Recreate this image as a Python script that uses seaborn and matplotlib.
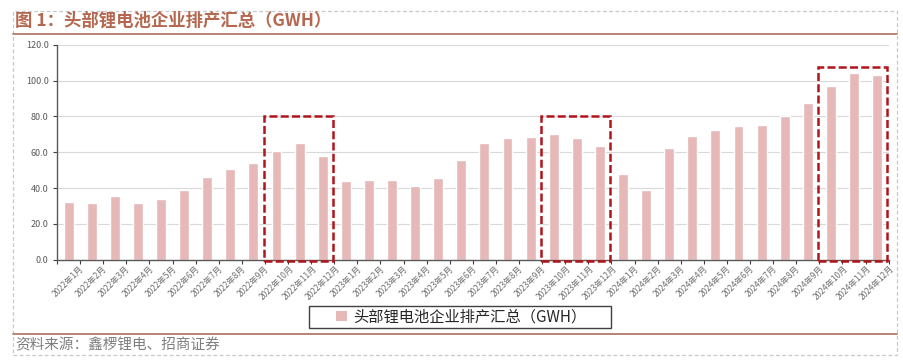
import matplotlib
matplotlib.use("Agg")
import matplotlib.pyplot as plt
from matplotlib.patches import Rectangle, Patch
from matplotlib.lines import Line2D
import seaborn as sns
import pandas as pd

years = ["2022", "2023", "2024"]
months = list(range(1, 13))
categories = [f"{y}年{m}月" for y in years for m in months]
values = [
    32.0, 31.6, 35.7, 31.8, 33.9, 38.9, 46.0, 50.8, 54.1, 60.7, 65.3, 58.0,
    43.9, 44.4, 44.3, 40.9, 45.4, 55.6, 65.0, 68.0, 68.3, 70.4, 68.1, 63.7,
    48.0, 38.7, 62.6, 68.8, 72.3, 74.7, 75.3, 80.1, 87.5, 96.8, 104.3, 103.2,
]
series_name = "头部锂电池企业排产汇总（GWH）"
title_text = "图 1：头部锂电池企业排产汇总（GWH）"
source_text = "资料来源：鑫椤锂电、招商证券"
yticks = [0, 20, 40, 60, 80, 100, 120]
# highlighted periods: (first month label, last month label, box top)
highlights = [("2022年10月", "2022年12月", 80), ("2023年10月", "2023年12月", 80),
              ("2024年10月", "2024年12月", 107.5)]

sns.set_theme(style="white")
plt.rcParams["font.family"] = ["Noto Sans CJK SC", "DejaVu Sans"]

df = pd.DataFrame({"month": categories, "value": values})

W, H = 904, 364
fig = plt.figure(figsize=(9.04, 3.64), dpi=100)
ax = fig.add_axes([57 / W, 1 - 259.7 / H, (888.7 - 57) / W, (259.7 - 44.7) / H])

bar_color = "#E6B8B7"
sns.barplot(data=df, x="month", y="value", color=bar_color, saturation=1,
            width=0.43, ax=ax, errorbar=None)

ax.set_ylim(0, 120)
ax.set_xlim(-0.5, len(categories) - 0.5)
ax.set_yticks(yticks)
ax.set_yticklabels([f"{v:.1f}" for v in yticks], fontsize=6.5, color="#595959")
ax.set_xticks(range(len(categories)))
ax.set_xticklabels(categories, rotation=45, ha="center", fontsize=6, color="#6E6E6E")
ax.tick_params(axis="x", which="major", length=0, pad=3)
ax.set_xticks([i - 0.5 for i in range(len(categories) + 1)], minor=True)
ax.tick_params(axis="x", which="minor", length=3, width=0.8, color="#404040", direction="out", bottom=True)
ax.tick_params(axis="y", length=3, width=0.8, color="#404040", direction="out", left=True, pad=3)
ax.set_xlabel("")
ax.set_ylabel("")
ax.yaxis.grid(True, color="#D9D9D9", linewidth=0.8)
ax.set_axisbelow(True)
for s in ["top", "right"]:
    ax.spines[s].set_visible(False)
for s in ["left", "bottom"]:
    ax.spines[s].set_color("#595959")
    ax.spines[s].set_linewidth(1.0)

# highlight boxes
for a, b, top in highlights:
    i0 = categories.index(a)
    i1 = categories.index(b)
    x0 = i0 - 0.56
    x1 = min(i1 + 0.44, len(categories) - 0.5)
    rect = Rectangle((x0, -0.6), x1 - x0, top + 0.6, fill=False, edgecolor="#B0151C",
                     linewidth=1.8, linestyle=(0, (3.2, 1.3)), clip_on=False, zorder=5)
    ax.add_patch(rect)

# legend
handle = Patch(facecolor=bar_color, edgecolor="none")
leg = fig.legend([handle], [series_name], loc="center", bbox_to_anchor=(461 / W, 1 - 316.7 / H),
                 frameon=False, fontsize=11,
                 handlelength=0.7, handleheight=0.7, handletextpad=0.4,
                 borderpad=0.25, borderaxespad=0)
for t in leg.get_texts():
    t.set_color("#262626")
fig.add_artist(Rectangle((309 / W, 1 - 327.7 / H), (611 - 309) / W, (327.7 - 305.7) / H,
                         transform=fig.transFigure, fill=False, edgecolor="#404040",
                         linewidth=1.0))

# outer dashed frame
fig.add_artist(Rectangle((13 / W, 1 - 355 / H), (897 - 13) / W, (355 - 11) / H,
                         transform=fig.transFigure, fill=False, edgecolor="#C8C8C8",
                         linewidth=0.9, linestyle=(0, (3, 2))))
brown = "#B47A68"
fig.add_artist(Line2D([13 / W, 897 / W], [1 - 34 / H, 1 - 34 / H], transform=fig.transFigure,
                      color=brown, linewidth=1.3))
fig.add_artist(Line2D([13 / W, 897 / W], [1 - 334 / H, 1 - 334 / H], transform=fig.transFigure,
                      color=brown, linewidth=1.3))

fig.text(15 / W, 1 - 21 / H, title_text, fontsize=12.5, fontweight="bold", color="#B5684F",
         ha="left", va="center")
fig.text(15 / W, 1 - 345 / H, source_text, fontsize=10.5, color="#7F7F7F",
         ha="left", va="center")

fig.savefig("out.png", dpi=100)
